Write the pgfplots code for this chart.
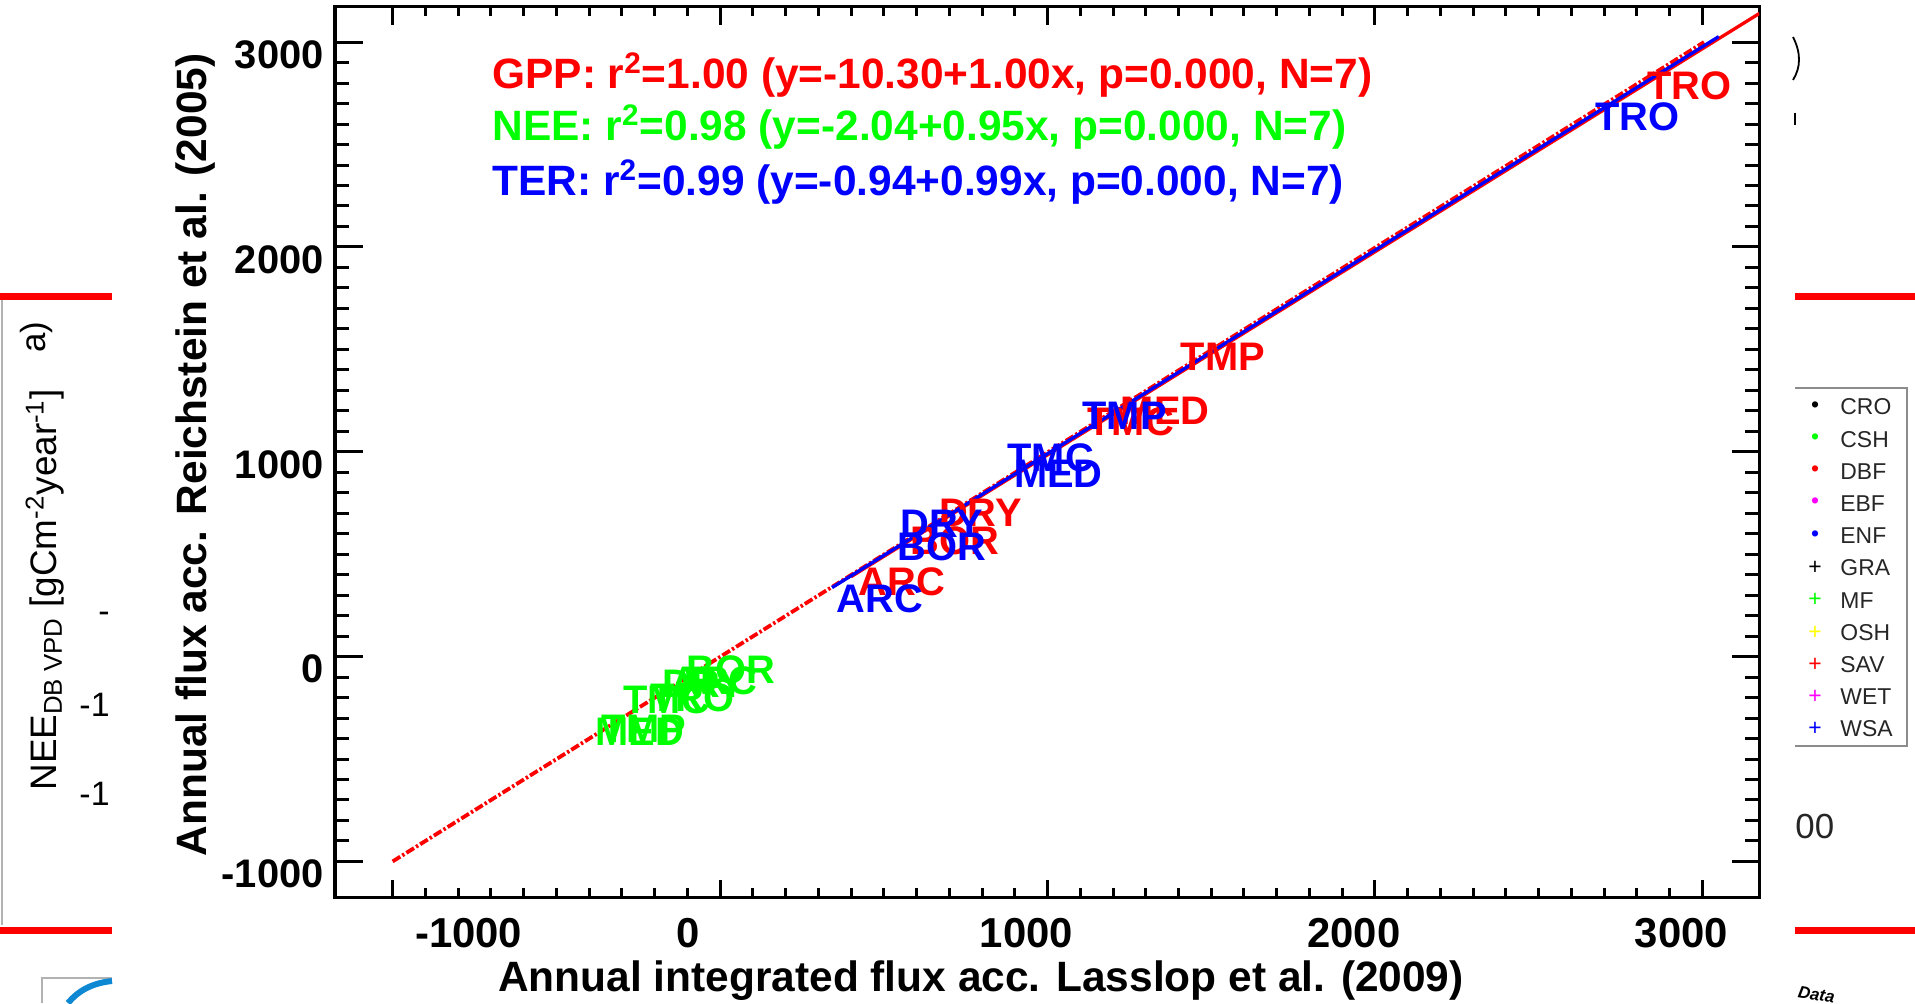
\documentclass[border=0pt]{standalone}
\usepackage{fontspec}
\setmainfont{Liberation Sans}
\usepackage{pgfplots}
\usepackage{pgfplotstable}
\pgfplotsset{compat=1.18}
\definecolor{pr}{RGB}{255,0,0}
\definecolor{pg}{RGB}{0,255,0}
\definecolor{pb}{RGB}{0,0,255}
\definecolor{py}{RGB}{255,255,0}
\definecolor{pm}{RGB}{255,0,255}

\pgfplotstableread{
x y lab
423 299 ARC
581 500 BOR
668 635 DRY
1121 1080 TMC
1223 1134 MED
1406 1399 TMP
2830 2722 TRO
}\gpp
\pgfplotstableread{
x y lab
355 215 ARC
541 467 BOR
551 581 DRY
897 825 MED
877 906 TMC
1106 1110 TMP
2672 2569 TRO
}\ter
\pgfplotstableread{
x y lab
-381 -432 MED
-362 -418 TMP
-296 -277 TMC
-213 -270 TRO
-176 -198 DRY
-150 -183 ARC
-103 -131 BOR
}\nee

\begin{document}
\begin{tikzpicture}[x=0.5bp,y=0.5bp]
\useasboundingbox (0,0) rectangle (1915,1003);
% background page fragments
\fill[pr] (0,702.5) rectangle (112,709.5);
\fill[pr] (1795,702.5) rectangle (1915,709.5);
\fill[pr] (0,69.5) rectangle (112,76.5);
\fill[pr] (1795,69.5) rectangle (1915,76.5);
\draw[black!30, line width=0.6bp] (2,703) -- (2,78);
\node[rotate=90, anchor=base, font=\fontsize{17.5}{20}\selectfont] at (45,666) {a)};
\node[rotate=90, anchor=base, font=\fontsize{18.5}{20}\selectfont] at (56,413) {NEE\textsubscript{DB VPD} [gCm\textsuperscript{-2}year\textsuperscript{-1}]};
\node[anchor=east, inner sep=0pt, font=\fontsize{17}{20}\selectfont] at (110,386) {-};
\node[anchor=east, inner sep=0pt, font=\fontsize{17}{20}\selectfont] at (110,298) {-1};
\node[anchor=east, inner sep=0pt, font=\fontsize{17}{20}\selectfont] at (110,209) {-1};
\draw[black!30, line width=0.6bp] (42,0) -- (42,25) -- (112,25);
\draw[cyan!70!blue, line width=3bp] (68,0) .. controls (78,12) and (92,20) .. (112,22);
% right legend fragment
\draw[black!45, line width=0.6bp] (1795,615) -- (1907,615) -- (1907,257) -- (1795,257);
\foreach \s/\c/\t [count=\i from 0] in {•/black/CRO,•/pg/CSH,•/pr/DBF,•/pm/EBF,•/pb/ENF,+/black/GRA,+/pg/MF,+/py/OSH,+/pr/SAV,+/pm/WET,+/pb/WSA}{
  \node[text=\c, font=\fontsize{11.5}{12}\selectfont, inner sep=0pt] at (1815,{1003-407-32.2*\i}) {\s};
  \node[anchor=west, inner sep=0pt, font=\fontsize{11.5}{12}\selectfont, text=black!85] at (1840,{1003-407-32.2*\i}) {\t};
}
\node[anchor=base west, inner sep=0pt, font=\fontsize{17.5}{20}\selectfont, text=black!85] at (1795,165) {00};
\draw[line width=0.9bp] (1793,966) .. controls (1801,950) and (1801,936) .. (1793,923);
\draw[line width=0.8bp] (1795,890) -- (1795,878);
\node[anchor=base west, inner sep=0pt, rotate=-10, font=\fontsize{8.5}{9}\selectfont\bfseries\itshape] at (1797,6) {Data};

\begin{axis}[
  at={(167.5bp,52.65bp)}, anchor=south west,
  scale only axis, width=712.15bp, height=445.5bp,
  xmin=-1176, xmax=3174, ymin=-1177, ymax=3173,
  axis line style={line width=1.65bp, black},
  xtick={-1000,0,1000,2000,3000}, ytick={-1000,0,1000,2000,3000},
  minor x tick num=9, minor y tick num=9,
  tick align=inside,
  xtick pos=both, ytick pos=both,
  tick style={black, line width=1.5bp},
  major tick length=9bp, minor tick length=4.75bp,
  major y tick style={/pgfplots/major tick length=13.8bp},
  minor y tick style={/pgfplots/minor tick length=7bp},
  xticklabels={{\hspace*{97bp}-1000},{0\hspace*{11bp}},1000,2000,3000},
  yticklabels={-1000,0,1000,2000,3000},
  xticklabel style={font=\bfseries\fontsize{21}{24}\selectfont, anchor=north, inner sep=0pt, yshift=-10.3bp, xshift=-10.5bp},
  yticklabel style={font=\bfseries\fontsize{20}{22}\selectfont, anchor=east, inner sep=0pt, xshift=-5.5bp, yshift=-6.25bp},
  every node near coord/.append style={anchor=base west, inner sep=0pt, font=\bfseries\fontsize{20}{22}\selectfont},
]
\addplot[only marks, mark=none, nodes near coords, point meta=explicit symbolic,
  every node near coord/.append style={text=pg}] table[x=x, y=y, meta=lab] {\nee};
\addplot[only marks, mark=none, nodes near coords, point meta=explicit symbolic,
  every node near coord/.append style={text=pr}] table[x=x, y=y, meta=lab] {\gpp};
\addplot[only marks, mark=none, nodes near coords, point meta=explicit symbolic,
  every node near coord/.append style={text=pb}] table[x=x, y=y, meta=lab] {\ter};
% 1:1 line
\addplot[pr, line width=1.9bp, dash pattern=on 4.5bp off 1.2bp on 1.2bp off 1.2bp] coordinates {(-1000,-1000) (3005,3000)};
% GPP fit
\addplot[pr, line width=1.65bp] coordinates {(400,390) (3174,3140)};
% TER fit
\addplot[pb, line width=1.65bp] coordinates {(342,337) (3050,3027)};
\end{axis}

\node[anchor=base, inner sep=0pt, font=\bfseries\fontsize{21.3}{24}\selectfont] at (981,11.3) {Annual integrated flux acc. Lasslop et al. (2009)};
\node[anchor=base, rotate=90, inner sep=0pt, font=\bfseries\fontsize{21.3}{24}\selectfont] at (206,548) {Annual flux acc. Reichstein et al. (2005)};
\node[anchor=base west, inner sep=0pt, text=pr, font=\bfseries\fontsize{21.3}{24}\selectfont] at (492,914) {GPP: r\textsuperscript{2}=1.00 (y=-10.30+1.00x, p=0.000, N=7)};
\node[anchor=base west, inner sep=0pt, text=pg, font=\bfseries\fontsize{21.3}{24}\selectfont] at (492,862.5) {NEE: r\textsuperscript{2}=0.98 (y=-2.04+0.95x, p=0.000, N=7)};
\node[anchor=base west, inner sep=0pt, text=pb, font=\bfseries\fontsize{21.3}{24}\selectfont] at (492,807.6) {TER: r\textsuperscript{2}=0.99 (y=-0.94+0.99x, p=0.000, N=7)};
\end{tikzpicture}
\end{document}
